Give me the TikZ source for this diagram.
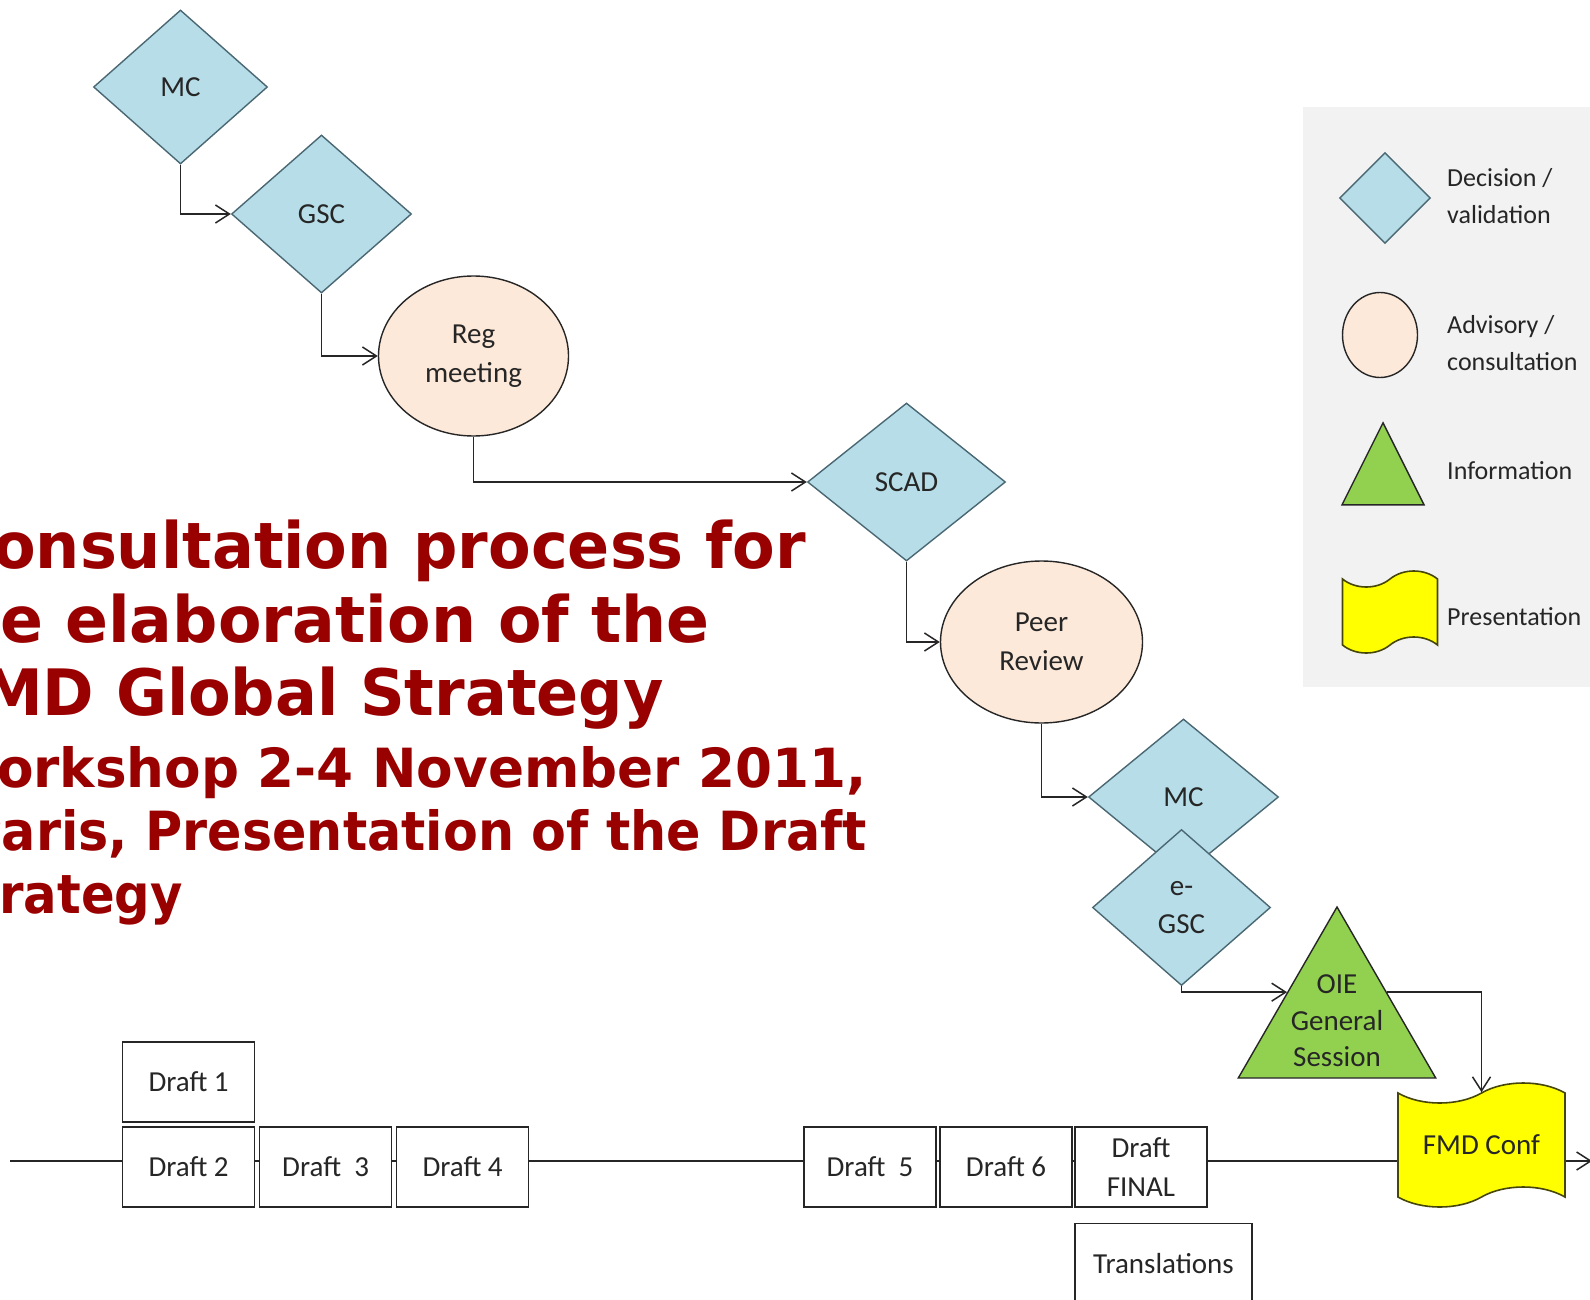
\documentclass[tikz,border=0pt]{standalone}
\usepackage{graphicx}
\usepackage{fontspec}
\setmainfont{Carlito}
\newfontfamily\headfont{DejaVu Sans}
\usetikzlibrary{positioning, shapes.geometric, shapes.symbols, arrows.meta, calc, backgrounds}

\definecolor{decfill}{RGB}{183,221,232}
\definecolor{decline}{RGB}{74,104,116}
\definecolor{advfill}{RGB}{253,233,217}
\definecolor{infofill}{RGB}{146,208,80}
\definecolor{presfill}{RGB}{255,255,0}
\definecolor{presline}{RGB}{70,70,10}
\definecolor{keybg}{RGB}{242,242,242}
\definecolor{headred}{RGB}{153,0,0}
\definecolor{ink}{RGB}{38,38,38}

\tikzset{
  decision/.style={diamond, draw=decline, fill=decfill, line width=1.4pt, inner sep=0pt, text=ink, align=center},
  advisory/.style={ellipse, draw=ink, fill=advfill, line width=1.4pt, inner sep=0pt, text=ink, align=center},
  info/.style={regular polygon, regular polygon sides=3, draw=ink, fill=infofill, line width=1.4pt, inner sep=0pt},
  present/.style={tape, draw=presline, fill=presfill, line width=1.6pt, inner sep=0pt, text=ink},
  draftbox/.style={rectangle, draw=ink, fill=white, line width=1.5pt, minimum width=132pt, minimum height=80pt, text=ink, align=center},
  flow/.style={draw=ink, line width=1.5pt, -{Straight Barb[length=14pt, width=18pt]}},
  headline/.style={text=headred, inner sep=0pt, anchor=base east, font=\headfont\bfseries\fontsize{64}{74}\selectfont},
  subline/.style={text=headred, inner sep=0pt, anchor=base east, font=\headfont\bfseries\fontsize{54}{63}\selectfont},
  keytext/.style={text=ink, align=left, inner sep=0pt, anchor=west, font=\fontsize{26}{36.5}\selectfont}
}

\begin{document}
\begin{tikzpicture}[x=1pt, y=-1pt, font=\fontsize{29}{39}\selectfont]
    \useasboundingbox (0,0) rectangle (1590,1300);
    \clip (0,0) rectangle (1590,1300);

    %Key
    \fill[keybg] (1303,107) rectangle (1590,687);
    \node[decision, minimum width=91pt, minimum height=91pt] (keydec) at (1385,198) {};
    \node[advisory, minimum width=75pt, minimum height=85pt] (keyadv) at (1380,335) {};
    \node[isosceles triangle, isosceles triangle stretches, shape border rotate=90, draw=ink, fill=infofill, line width=1.4pt, inner sep=0pt, minimum width=82pt, minimum height=82pt, anchor=apex] (keyinfo) at (1383,421) {};
    \node[present, minimum width=95pt, minimum height=82pt, tape bend height=16pt] (keypres) at (1390,612) {};
    \node[keytext] (keydectxt) at (1447,196) {Decision /\\validation};
    \node[keytext] (keyadvtxt) at (1447,343) {Advisory /\\consultation};
    \node[keytext] (keyinfotxt) at (1447,471) {Information};
    \node[keytext] (keyprestxt) at (1447,617) {Presentation};

    %Title (cut at the left edge)
    \node[headline] (head1) at (806,568) {\scalebox{0.97}[1]{Consultation process for}};
    \node[headline] (head2) at (710,642) {\scalebox{0.99}[1]{the elaboration of the}};
    \node[headline] (head3) at (664,715) {\scalebox{0.97}[1]{FMD Global Strategy}};
    \node[subline] (sub1) at (867,787) {\scalebox{0.985}[1]{Workshop 2-4 November 2011,}};
    \node[subline] (sub2) at (867,850) {\scalebox{0.94}[1]{Paris, Presentation of the Draft}};
    \node[subline] (sub3) at (183,913) {\scalebox{0.92}[1]{Strategy}};

    %Steps
    \node[decision, minimum width=174pt, minimum height=154pt] (mc) at (180.5,87) {MC};
    \node[decision, minimum width=180pt, minimum height=158pt] (gsc) at (321.5,214) {GSC};
    \node[advisory, minimum width=190pt, minimum height=160pt] (reg) at (473.5,356) {Reg\\meeting};
    \node[decision, minimum width=198pt, minimum height=158pt] (scad) at (906.5,482) {SCAD};
    \node[advisory, minimum width=202pt, minimum height=162pt] (peer) at (1041.5,642) {Peer\\Review};
    \node[decision, minimum width=190pt, minimum height=156pt] (mc2) at (1183.5,797) {MC};
    \node[decision, minimum width=178pt, minimum height=156pt, font=\fontsize{29}{37.5}\selectfont] (egsc) at (1181.5,907.5) {e-\\GSC};
    \node[info, minimum size=228pt] (oie) at (1337,1021) {};
    \node[align=center, text=ink, font=\fontsize{29}{36.5}\selectfont] (oietxt) at (oie.center) {OIE\\General\\Session};
    \node[present, minimum width=167pt, minimum height=124pt, tape bend height=20pt] (conf) at (1481.5,1145) {FMD Conf};

    %Drafts
    \node[draftbox] (d2) at (188.6,1167) {Draft 2};
    \node[draftbox, above=3.5pt of d2] (d1) {Draft 1};
    \node[draftbox, right=3.5pt of d2] (d3) {Draft\ \ 3};
    \node[draftbox, right=3.5pt of d3] (d4) {Draft 4};
    \node[draftbox] (d5) at (870,1167) {Draft\ \ 5};
    \node[draftbox, right=2.5pt of d5] (d6) {Draft 6};
    \node[draftbox, right=1.5pt of d6] (dfin) {Draft\\FINAL};
    \node[draftbox, minimum width=177pt, anchor=north west] (trans) at ($(dfin.south west)+(0,15)$) {Translations};

    %Lines
    \draw[flow] (mc.south) |- (gsc.west);
    \draw[flow] (gsc.south) |- (reg.west);
    \draw[flow] (reg.south) |- (scad.west);
    \draw[flow] (scad.south) |- (peer.west);
    \draw[flow] (peer.south) |- (mc2.west);
    \draw[flow] (egsc.south) |- ($(oie.corner 1)!0.5!(oie.corner 2)$);
    \draw[flow] ($(oie.corner 1)!0.5!(oie.corner 3)$) -| (conf.north);

    %Timeline
    \coordinate (tstart) at (10,1161);
    \coordinate (tend) at (1592,1161);
    \begin{scope}[on background layer]
        \fill[white] (0,0) rectangle (1590,1300);
        \draw[ink, line width=1.5pt] (tstart) -- (tstart -| conf.west);
    \end{scope}
    \draw[flow] (tstart -| conf.east) -- (tend);
\end{tikzpicture}
\end{document}
